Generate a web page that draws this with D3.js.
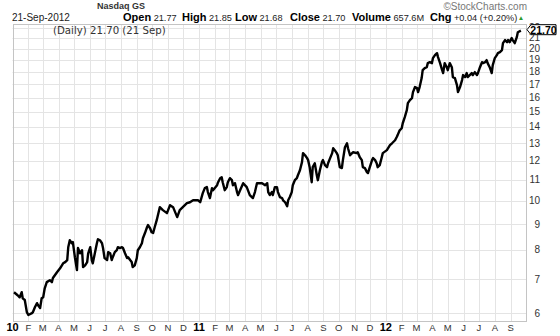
<!DOCTYPE html>
<html>
<head>
<meta charset="utf-8">
<script src="https://cdn.jsdelivr.net/npm/d3@7"></script>
<style>
  html, body { margin: 0; padding: 0; background: #fff; }
  svg { display: block; font-family: "Liberation Sans", Arial, sans-serif; }
</style>
</head>
<body>
<svg id="chart" width="560" height="336"></svg>
<script>
// Daily closes (sampled), Nasdaq GS listing, Jan 2010 – 21 Sep 2012
const dates = [
  "2010-01-04","2010-01-11","2010-01-15","2010-01-19","2010-01-21","2010-01-25","2010-01-29",
  "2010-02-01","2010-02-08","2010-02-10","2010-02-14","2010-02-18","2010-02-20","2010-02-24","2010-02-27",
  "2010-03-02","2010-03-05","2010-03-09","2010-03-15","2010-03-19","2010-03-21","2010-03-29",
  "2010-04-04","2010-04-10","2010-04-14","2010-04-18","2010-04-20","2010-04-23","2010-04-27","2010-04-29",
  "2010-05-03","2010-05-07","2010-05-09","2010-05-13","2010-05-17","2010-05-19","2010-05-23","2010-05-27","2010-05-29",
  "2010-06-02","2010-06-05","2010-06-07","2010-06-11","2010-06-15","2010-06-17","2010-06-21","2010-06-25","2010-06-27","2010-06-30",
  "2010-07-05","2010-07-07","2010-07-11","2010-07-14","2010-07-16","2010-07-20","2010-07-24","2010-07-26","2010-07-30",
  "2010-08-03","2010-08-05","2010-08-09","2010-08-13","2010-08-15","2010-08-19","2010-08-22","2010-08-24","2010-08-28",
  "2010-09-01","2010-09-03","2010-09-07","2010-09-11","2010-09-13","2010-09-17","2010-09-21","2010-09-23","2010-09-27","2010-09-30",
  "2010-10-03","2010-10-06","2010-10-10","2010-10-16","2010-10-22","2010-10-30",
  "2010-11-05","2010-11-11","2010-11-19","2010-11-24","2010-11-30",
  "2010-12-08","2010-12-14","2010-12-20","2010-12-30",
  "2011-01-03","2011-01-08","2011-01-12","2011-01-16","2011-01-18","2011-01-22","2011-01-26","2011-01-28",
  "2011-02-05","2011-02-07","2011-02-11","2011-02-14","2011-02-16","2011-02-20","2011-02-24","2011-02-26",
  "2011-03-02","2011-03-06","2011-03-08","2011-03-12","2011-03-16","2011-03-18","2011-03-22","2011-03-28",
  "2011-04-04","2011-04-10","2011-04-16","2011-04-20","2011-04-24","2011-04-26",
  "2011-05-04","2011-05-10","2011-05-14","2011-05-16","2011-05-19","2011-05-23","2011-05-25","2011-05-29",
  "2011-06-02","2011-06-04","2011-06-08","2011-06-12","2011-06-14","2011-06-18","2011-06-22","2011-06-24","2011-06-27",
  "2011-07-01","2011-07-03","2011-07-07","2011-07-11","2011-07-13","2011-07-17","2011-07-21","2011-07-23","2011-07-27","2011-07-31",
  "2011-08-02","2011-08-05","2011-08-09","2011-08-11","2011-08-15","2011-08-19","2011-08-21","2011-08-25","2011-08-29","2011-08-31",
  "2011-09-04","2011-09-08","2011-09-10","2011-09-14","2011-09-18","2011-09-20","2011-09-23","2011-09-27","2011-09-29",
  "2011-10-03","2011-10-07","2011-10-09","2011-10-13","2011-10-17","2011-10-19","2011-10-23","2011-10-27","2011-10-29",
  "2011-11-05","2011-11-07","2011-11-11","2011-11-15","2011-11-17","2011-11-21","2011-11-25","2011-11-27","2011-11-30",
  "2011-12-05","2011-12-07","2011-12-11","2011-12-14","2011-12-16","2011-12-20","2011-12-24","2011-12-26",
  "2012-01-03","2012-01-09","2012-01-13","2012-01-15","2012-01-19","2012-01-22","2012-01-24","2012-01-28",
  "2012-02-01","2012-02-03","2012-02-07","2012-02-11","2012-02-13","2012-02-17","2012-02-21","2012-02-23","2012-02-27",
  "2012-03-02","2012-03-04","2012-03-07","2012-03-11","2012-03-13","2012-03-17","2012-03-21","2012-03-23","2012-03-27","2012-03-31",
  "2012-04-02","2012-04-06","2012-04-10","2012-04-12","2012-04-16","2012-04-20","2012-04-22","2012-04-25","2012-04-29",
  "2012-05-01","2012-05-05","2012-05-09","2012-05-11","2012-05-15","2012-05-19","2012-05-21","2012-05-25","2012-05-29","2012-05-31",
  "2012-06-04","2012-06-07","2012-06-09","2012-06-13","2012-06-17","2012-06-19","2012-06-23","2012-06-27","2012-06-29",
  "2012-07-03","2012-07-07","2012-07-09","2012-07-13","2012-07-16","2012-07-18","2012-07-22","2012-07-26","2012-07-28",
  "2012-08-01","2012-08-05","2012-08-07","2012-08-11","2012-08-15","2012-08-17","2012-08-21","2012-08-25","2012-08-27","2012-08-30",
  "2012-09-03","2012-09-05","2012-09-09","2012-09-13","2012-09-15","2012-09-21"
];
const closes = [
  6.60,6.51,6.45,6.60,6.42,6.37,6.03,
  5.95,6.00,6.03,6.17,6.28,6.22,6.14,6.42,
  6.45,6.72,6.91,6.97,6.91,7.04,7.23,
  7.36,7.53,7.57,7.64,8.10,8.36,8.25,8.29,
  7.74,7.30,8.07,7.88,7.99,7.40,7.46,7.57,7.88,
  8.10,7.64,7.53,7.88,8.25,8.40,8.36,8.25,8.07,7.71,
  7.64,7.92,7.88,7.64,7.74,7.92,7.99,8.10,8.07,
  8.10,8.07,7.88,7.71,7.74,7.64,7.57,7.40,7.46,
  7.71,7.99,8.10,8.25,8.44,8.64,8.87,8.96,8.83,8.67,
  8.64,8.87,9.16,9.72,9.59,9.46,
  9.81,9.72,9.29,9.59,9.72,
  9.90,9.94,10.03,10.03,
  9.94,10.36,10.60,10.65,10.41,10.13,10.60,10.50,
  10.74,10.89,11.09,11.14,10.89,10.50,10.65,10.89,
  11.09,10.99,10.74,10.84,10.41,10.27,10.50,10.84,
  10.65,10.27,10.13,10.41,10.84,10.84,
  10.84,10.74,10.84,10.41,10.27,10.41,10.27,10.65,
  10.65,10.41,10.17,10.13,10.03,9.94,9.76,10.03,10.17,
  10.41,10.74,10.99,11.09,11.24,11.50,11.93,12.43,12.31,12.15,
  12.04,11.66,10.89,11.66,11.87,11.24,10.99,11.50,11.93,12.04,
  11.77,11.66,11.87,12.15,12.43,12.71,12.60,12.43,12.31,
  11.66,11.61,12.04,12.77,13.00,12.71,12.31,12.43,12.48,
  12.43,12.48,12.20,12.04,11.66,11.61,11.40,11.35,11.61,
  12.04,12.15,12.04,11.87,11.66,11.77,12.20,12.43,
  12.60,12.89,13.00,13.06,13.18,13.36,13.49,13.79,
  13.92,14.24,14.64,15.12,15.60,15.82,15.96,16.41,16.79,
  16.71,16.41,16.79,17.49,18.13,18.30,18.38,18.72,18.80,18.72,
  19.15,19.41,19.59,19.24,18.72,18.13,17.89,18.72,18.38,
  18.13,18.72,18.38,17.57,17.49,16.94,16.41,16.79,17.33,17.73,
  17.57,17.89,17.57,17.73,17.89,17.73,17.97,17.73,17.89,
  18.38,18.80,18.72,18.80,18.98,18.72,18.38,17.89,18.55,
  19.15,19.41,19.59,19.68,19.86,20.50,20.79,20.60,20.79,20.60,
  20.98,20.79,20.50,21.07,21.55,21.70
];

// Axis labels
const priceTicks = [6,7,8,9,10,11,12,13,14,15,16,17,18,19,20,21,22];
const monthLetters = ["J","F","M","A","M","J","J","A","S","O","N","D"];

// Header texts
const exchangeName = "Nasdaq GS";
const quoteDate = "21-Sep-2012";
const quoteLabels = ["Open", "High", "Low", "Close", "Volume", "Chg"];
const quoteValues = ["21.77", "21.85", "21.68", "21.70", "657.6M", "+0.04 (+0.20%)"];
const legendText = "(Daily) 21.70 (21 Sep)";
const lastClose = 21.70;
const credit = "\u00A9StockCharts.com";

const parse = d3.timeParse("%Y-%m-%d");
const series = dates.map((d, i) => ({ date: parse(d), close: closes[i] }));

const svg = d3.select("#chart");
const plot = { left: 12.5, right: 526, top: 24, bottom: 321 };

const x = d3.scaleTime()
  .domain([new Date(2010, 0, 1), new Date(2012, 9, 1)])
  .range([plot.left, plot.right]);
const y = d3.scaleLog()
  .domain([5.79, 22.37])
  .range([plot.bottom, plot.top]);

const crisp = v => Math.round(v) + 0.5;

// Grid
const months = d3.timeMonth.range(new Date(2010, 0, 1), new Date(2012, 9, 1));
const grid = svg.append("g");
grid.selectAll("line.v").data(months).join("line")
  .attr("x1", d => crisp(x(d))).attr("x2", d => crisp(x(d)))
  .attr("y1", plot.top).attr("y2", plot.bottom)
  .attr("stroke", "#e4e4e4").attr("stroke-width", 1);
grid.selectAll("line.h").data(priceTicks).join("line")
  .attr("x1", plot.left).attr("x2", plot.right)
  .attr("y1", d => crisp(y(d))).attr("y2", d => crisp(y(d)))
  .attr("stroke", "#e4e4e4").attr("stroke-width", 1);

// Frame
svg.append("rect")
  .attr("x", crisp(plot.left)).attr("y", crisp(plot.top))
  .attr("width", Math.round(plot.right) - Math.round(plot.left))
  .attr("height", Math.round(plot.bottom) - Math.round(plot.top))
  .attr("fill", "none").attr("stroke", "#c4c4c4");

// Price line
const line = d3.line().x(d => x(d.date)).y(d => y(d.close));
svg.append("path").datum(series)
  .attr("d", line)
  .attr("fill", "none").attr("stroke", "#000")
  .attr("stroke-width", 2.4).attr("stroke-linejoin", "round");

// Right price axis
svg.append("g").selectAll("text").data(priceTicks).join("text")
  .attr("x", 540).attr("y", d => y(d) + 3.5)
  .attr("text-anchor", "end")
  .attr("font-size", 10).attr("fill", "#333")
  .text(d => d);

// Last price marker
const ly = y(lastClose) - 1;
const tag = svg.append("g");
tag.append("path")
  .attr("d", `M527,${ly} L531,${ly - 5} L556,${ly - 5} L556,${ly + 5} L531,${ly + 5} Z`)
  .attr("fill", "#fff").attr("stroke", "#000").attr("stroke-width", 1);
tag.append("text")
  .attr("x", 543.5).attr("y", ly + 4)
  .attr("text-anchor", "middle")
  .attr("font-size", 10.5).attr("font-weight", "bold").attr("fill", "#000")
  .text(lastClose.toFixed(2));

// Bottom month axis
svg.append("g").selectAll("text").data(months).join("text")
  .attr("x", d => x(d))
  .attr("y", 331)
  .attr("text-anchor", "middle")
  .attr("font-size", d => d.getMonth() === 0 ? 11 : 9.5)
  .attr("font-weight", d => d.getMonth() === 0 ? "bold" : "normal")
  .attr("fill", d => d.getMonth() === 0 ? "#000" : "#333")
  .text(d => d.getMonth() === 0 ? d3.timeFormat("%y")(d) : monthLetters[d.getMonth()]);

// Header
svg.append("text").attr("x", 97).attr("y", 9)
  .attr("font-size", 9).attr("font-weight", "bold").attr("fill", "#333").text(exchangeName);
svg.append("text").attr("x", 527).attr("y", 9.5)
  .attr("text-anchor", "end").attr("font-size", 10).attr("fill", "#777").text(credit);
svg.append("text").attr("x", 12).attr("y", 20.5)
  .attr("font-size", 10).attr("fill", "#222").text(quoteDate);

const labelX = [123, 182, 235, 290, 352, 430];
const quote = svg.append("g");
quoteLabels.forEach((label, i) => {
  const t = quote.append("text").attr("x", labelX[i]).attr("y", 21);
  t.append("tspan").attr("font-size", 11).attr("font-weight", "bold").attr("fill", "#000").text(label);
  t.append("tspan").attr("dx", 2.5).attr("font-size", 9.2).attr("fill", "#222").text(quoteValues[i]);
});
svg.append("text").attr("x", 521).attr("y", 20)
  .attr("text-anchor", "middle").attr("font-size", 6.5).attr("fill", "#2a9a2a").text("\u25B2");

svg.append("text").attr("x", 53).attr("y", 34)
  .attr("font-family", "DejaVu Sans").attr("font-size", 10.2).attr("fill", "#333")
  .text(legendText);
</script>
</body>
</html>
